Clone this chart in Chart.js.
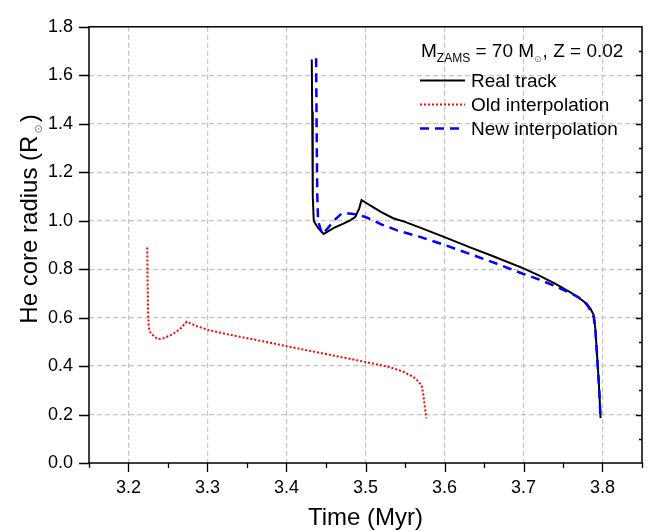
<!DOCTYPE html>
<html><head><meta charset="utf-8">
<script src="https://cdn.jsdelivr.net/npm/chart.js@4.4.1/dist/chart.umd.min.js"></script>
<style>html,body{margin:0;padding:0;background:#fff}</style>
</head><body>
<canvas id="c" width="656" height="532" style="width:656px;height:532px;display:block"></canvas>
<script>
// ---- data ----
const realT = [3.4320,3.4325,3.4330,3.4335,3.4345,3.4370,3.4400,3.4440,3.4470,3.4520,3.4600,3.4700,3.4800,3.4870,3.4920,3.4950,3.5000,3.5100,3.5200,3.5350,3.5500,3.5700,3.6000,3.6300,3.6600,3.7000,3.7200,3.7400,3.7600,3.7700,3.7800,3.7850,3.7890,3.7910,3.7930,3.7950,3.7965,3.7975];
const realR = [1.665,1.45,1.25,1.10,1.000,0.985,0.970,0.955,0.945,0.955,0.970,0.985,1.000,1.015,1.050,1.085,1.075,1.055,1.035,1.010,0.995,0.970,0.932,0.893,0.855,0.803,0.773,0.740,0.703,0.682,0.657,0.635,0.610,0.550,0.450,0.350,0.260,0.185];

const oldT = [3.2238,3.2242,3.2247,3.2255,3.2263,3.2280,3.2330,3.2377,3.2450,3.2550,3.2650,3.2736,3.2863,3.3032,3.3285,3.3706,3.4002,3.4400,3.4800,3.5100,3.5310,3.5480,3.5630,3.5710,3.5730,3.5750,3.5770];
const oldR = [0.889,0.750,0.640,0.570,0.549,0.538,0.520,0.511,0.516,0.530,0.552,0.583,0.565,0.547,0.529,0.502,0.482,0.456,0.430,0.410,0.395,0.377,0.350,0.321,0.287,0.234,0.184];

const newT = [3.4375,3.4380,3.4385,3.4390,3.4400,3.4430,3.4460,3.4500,3.4600,3.4700,3.4800,3.4900,3.5000,3.5200,3.5400,3.5700,3.6000,3.6300,3.6600,3.7000,3.7200,3.7400,3.7600,3.7700,3.7800,3.7850,3.7890,3.7910,3.7930,3.7950,3.7965,3.7975];
const newR = [1.670,1.450,1.250,1.100,1.000,0.965,0.945,0.960,1.000,1.030,1.030,1.025,1.015,0.985,0.960,0.932,0.900,0.865,0.830,0.780,0.757,0.730,0.700,0.683,0.655,0.630,0.600,0.550,0.450,0.350,0.260,0.180];

const seriesLabels = ['Real track','Old interpolation','New interpolation'];
const xTicks = [3.2,3.3,3.4,3.5,3.6,3.7,3.8];
const yTicks = [0.0,0.2,0.4,0.6,0.8,1.0,1.2,1.4,1.6,1.8];
const xRange = [3.15, 3.85];
const yRange = [0, 1.8];

const FONT = '"Liberation Sans", Arial, Helvetica, sans-serif';
const pts = (t, r) => t.map((v, i) => ({x: v, y: r[i]}));
const isMult = (v, s) => Math.abs(v / s - Math.round(v / s)) < 1e-6;

const styles = [
  {borderColor:'#000000', borderWidth:2, borderDash:[], order:1},
  {borderColor:'#ff0000', borderWidth:2, borderDash:[2,2], order:2},
  {borderColor:'#0000ff', borderWidth:2.5, borderDash:[9,6], order:0}
];

const decor = {
  id: 'decor',
  afterDraw(chart) {
    const ctx = chart.ctx, ca = chart.chartArea;
    const xs = chart.scales.x, ys = chart.scales.y;
    ctx.save();
    ctx.strokeStyle = '#000'; ctx.lineWidth = 1.5; ctx.setLineDash([]);
    ctx.strokeRect(ca.left, ca.top, ca.right - ca.left, ca.bottom - ca.top);
    ctx.lineWidth = 1.3;
    ctx.beginPath();
    // bottom ticks (outward), major every 0.1, minor every 0.05
    for (let k = 0; k <= 14; k++) {
      const v = xRange[0] + k * 0.05;
      const p = Math.round(xs.getPixelForValue(v)) + 0.5;
      const len = isMult(v, 0.1) ? 9 : 5;
      ctx.moveTo(p, ca.bottom); ctx.lineTo(p, ca.bottom + len);
    }
    // left ticks (outward)
    for (const v of yTicks) {
      const p = Math.round(ys.getPixelForValue(v)) + 0.5;
      ctx.moveTo(ca.left - 10, p); ctx.lineTo(ca.left, p);
    }
    // right ticks (inward)
    for (let k = 1; k < 18; k++) {
      const v = k * 0.1;
      const p = Math.round(ys.getPixelForValue(v)) + 0.5;
      const len = (k % 2 === 0) ? 6 : 3;
      ctx.moveTo(ca.right, p); ctx.lineTo(ca.right - len, p);
    }
    ctx.stroke();

    // axis titles
    ctx.fillStyle = '#000';
    ctx.font = '24px ' + FONT;
    ctx.textBaseline = 'alphabetic';
    ctx.textAlign = 'center';
    ctx.fillText('Time (Myr)', (ca.left + ca.right) / 2, 525);

    ctx.save();
    ctx.translate(37, 219);
    ctx.rotate(-Math.PI / 2);
    const a = 'He core radius (R', sub = '\u2299', b = ')';
    ctx.font = '24px ' + FONT;
    const wa = ctx.measureText(a).width, wb = ctx.measureText(b).width;
    ctx.font = '11px "DejaVu Sans", ' + FONT;
    const ws = ctx.measureText(sub).width + 4;
    let x0 = -(wa + ws + wb) / 2;
    ctx.textAlign = 'left';
    ctx.font = '24px ' + FONT;
    ctx.fillText(a, x0, 0);
    ctx.font = '11px "DejaVu Sans", ' + FONT;
    ctx.fillStyle = '#777';
    ctx.fillText(sub, x0 + wa + 2, 5);
    ctx.fillStyle = '#000';
    ctx.font = '24px ' + FONT;
    ctx.fillText(b, x0 + wa + ws, 0);
    ctx.restore();

    // legend
    let lx = 421, ly = 57;
    ctx.textAlign = 'left';
    const parts = [
      ['M', '19px ' + FONT, 0, '#000'],
      ['ZAMS', '12px ' + FONT, 5, '#000'],
      [' = 70 M', '19px ' + FONT, 0, '#000'],
      ['\u2299', '9px "DejaVu Sans", ' + FONT, 5, '#777'],
      [', Z = 0.02', '19px ' + FONT, 0, '#000']
    ];
    for (const [txt, f, dy, col] of parts) {
      ctx.font = f; ctx.fillStyle = col;
      ctx.fillText(txt, lx, ly + dy);
      lx += ctx.measureText(txt).width + (txt === '\u2299' ? 1 : 0);
    }
    ctx.fillStyle = '#000';
    ctx.font = '19px ' + FONT;
    const rows = [87, 111, 135];
    seriesLabels.forEach((lab, i) => {
      const ds = chart.data.datasets.find(d => d.label === lab);
      const y = rows[i];
      ctx.save();
      ctx.strokeStyle = ds.borderColor; ctx.lineWidth = ds.borderWidth;
      ctx.setLineDash(ds.borderDash);
      ctx.beginPath(); ctx.moveTo(420, y - 6.5); ctx.lineTo(465, y - 6.5); ctx.stroke();
      ctx.restore();
      ctx.fillText(lab, 471, y);
    });
    ctx.restore();
  }
};

const gridColor = (ctx, lo, hi) => {
  const v = ctx.tick ? ctx.tick.value : null;
  if (v === null || Math.abs(v - lo) < 1e-6 || Math.abs(v - hi) < 1e-6) return 'rgba(0,0,0,0)';
  return '#c4c4c4';
};

new Chart(document.getElementById('c'), {
  type: 'line',
  data: {
    datasets: [
      Object.assign({label: seriesLabels[0], data: pts(realT, realR)}, styles[0]),
      Object.assign({label: seriesLabels[1], data: pts(oldT, oldR)}, styles[1]),
      Object.assign({label: seriesLabels[2], data: pts(newT, newR)}, styles[2])
    ].map(d => Object.assign(d, {pointRadius: 0, tension: 0, fill: false, borderCapStyle: 'butt'}))
  },
  options: {
    responsive: false,
    animation: false,
    devicePixelRatio: 1,
    layout: {padding: {left: 0, right: 14, top: 16, bottom: 0}},
    plugins: {legend: {display: false}, tooltip: {enabled: false}},
    scales: {
      x: {
        type: 'linear', min: xRange[0], max: xRange[1],
        afterBuildTicks: s => { s.ticks = xTicks.map(v => ({value: v})); },
        afterFit: s => { s.height = 69; },
        border: {display: false, dash: [5, 3]},
        grid: {drawTicks: false, color: c => gridColor(c, xRange[0], xRange[1]), lineWidth: 1.2},
        ticks: {padding: 14, color: '#000', font: {size: 18, family: FONT},
          maxRotation: 0, autoSkip: false,
          callback: v => Number(v).toFixed(1)}
      },
      y: {
        type: 'linear', min: yRange[0], max: yRange[1],
        afterBuildTicks: s => { s.ticks = yTicks.map(v => ({value: v})); },
        afterFit: s => { s.width = 89; },
        border: {display: false, dash: [5, 3]},
        grid: {drawTicks: false, color: c => gridColor(c, yRange[0], yRange[1]), lineWidth: 1.2},
        ticks: {padding: 16, color: '#000', font: {size: 18, family: FONT}, autoSkip: false,
          callback: v => Number(v).toFixed(1)}
      }
    }
  },
  plugins: [decor]
});
</script>
</body></html>
